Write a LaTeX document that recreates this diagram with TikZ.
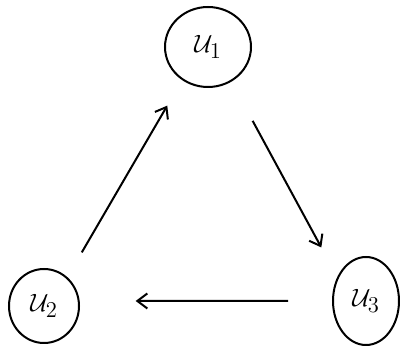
\documentclass[tikz,border=0pt]{standalone}
\usepackage{graphicx}
\usetikzlibrary{arrows.meta,shapes.geometric}
\newcommand{\ulab}[1]{\scalebox{1.45}{\LARGE$\mathcal{U}_{\scalebox{1.3}{$\scriptstyle #1$}}$}}
\begin{document}
\begin{tikzpicture}[x=1pt,y=-1pt,
  hand/.style={draw=black,line width=2pt},
  unode/.style={hand,ellipse,inner sep=0pt},
  conn/.style={line width=2pt,-{Straight Barb[length=10pt,width=15pt,line width=2pt]}}]
\useasboundingbox (0,0) rectangle (400,347);
\node[unode,minimum width=86pt,minimum height=80pt] (u1) at (208,47) {\ulab{1}};
\node[unode,minimum width=70pt,minimum height=74pt] (u2) at (44,306) {\ulab{2}};
\node[unode,minimum width=66pt,minimum height=88pt] (u3) at (366,301) {\ulab{3}};
\draw[conn,shorten <=28.6pt,shorten >=29.5pt] (u2.51.5) -- (u1.232.5);
\draw[conn,shorten <=44.5pt,shorten >=33.5pt] (u1.-56) -- (u3.140);
\draw[conn,shorten <=44pt,shorten >=56pt] (u3.180) -- (u2.8);
\end{tikzpicture}
\end{document}
